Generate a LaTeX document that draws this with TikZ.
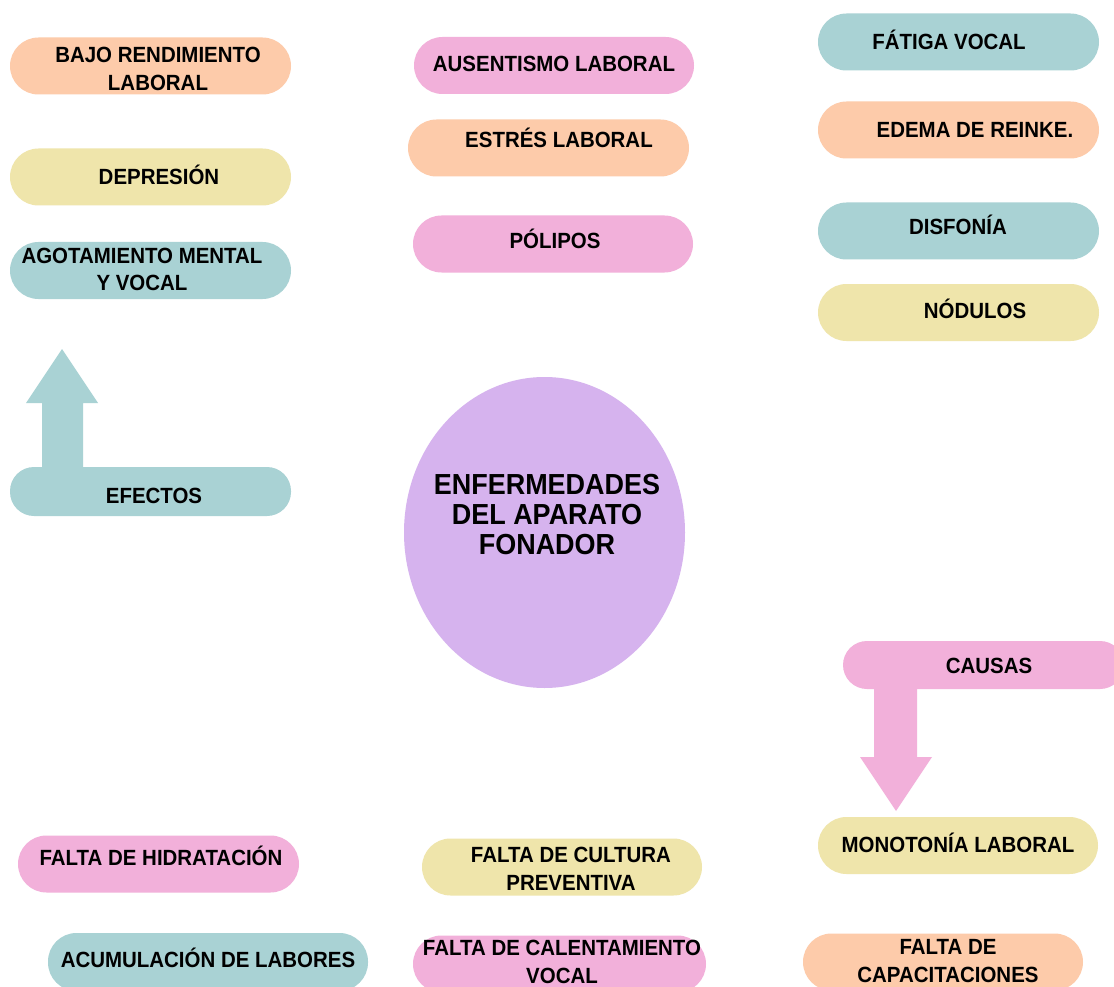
\documentclass[tikz,border=0pt]{standalone}
\usepackage{fontspec}
\newfontfamily\lblfont{Liberation Sans}[FakeStretch=0.93]
\definecolor{csalmon}{HTML}{FDCBAA}
\definecolor{cyellow}{HTML}{EFE5AB}
\definecolor{cteal}{HTML}{A9D2D4}
\definecolor{cpink}{HTML}{F2B0DA}
\definecolor{cpurple}{HTML}{D6B3EE}
\newcommand{\mylines}[2]{\begin{tabular}[t]{@{}c@{}}#1\\#2\end{tabular}}
\begin{document}
\begin{tikzpicture}[x=1pt,y=-1pt,
  pill/.style={rectangle, rounded corners=28.5pt, minimum width=281pt, minimum height=57pt, inner sep=0pt, draw=none},
  smallpill/.style={pill, rounded corners=24pt, minimum height=48pt},
  txt/.style={anchor=base, inner sep=0pt, font=\lblfont\bfseries\fontsize{22}{28}\selectfont},
  bigtxt/.style={anchor=base, inner sep=0pt, font=\lblfont\bfseries\fontsize{29}{30}\selectfont}
]
\useasboundingbox (0,0) rectangle (1114,987);
\fill[white] (0,0) rectangle (1114,987);

% arrows
\fill[cteal] (42,470) -- (42,403) -- (26,403) -- (62,349) -- (98,403) -- (83,403) -- (83,470) -- cycle;
\fill[cpink] (874,686) -- (874,757) -- (860,757) -- (896,811) -- (932,757) -- (917,757) -- (917,686) -- cycle;

% central ellipse
\fill[cpurple] (544.5,532.5) ellipse [x radius=140.5, y radius=155.5];
\node[bigtxt] (centro) at (547,494) {\begin{tabular}[t]{@{}c@{}}ENFERMEDADES\\DEL APARATO\\FONADOR\end{tabular}};

% left column
\node[pill, fill=csalmon] (bajo) at (150.5,66) {};
\node[txt] (bajoT) at (158,63) {\mylines{BAJO RENDIMIENTO}{LABORAL}};
\node[pill, fill=cyellow] (depre) at (150.5,177) {};
\node[txt] (depreT) at (159,185) {DEPRESIÓN};
\node[pill, fill=cteal] (agot) at (150.5,270.5) {};
\node[txt] (agotT) at (142,263) {\mylines{AGOTAMIENTO MENTAL}{Y VOCAL}};
\node[pill, smallpill, fill=cteal, minimum height=49pt] (efectos) at (150.5,491.5) {};
\node[txt] (efectosT) at (154,503) {EFECTOS};

% middle column
\node[pill, fill=cpink, minimum width=280pt] (ausent) at (554,65.5) {};
\node[txt] (ausentT) at (554,72) {AUSENTISMO LABORAL};
\node[pill, fill=csalmon] (estres) at (548.5,148) {};
\node[txt] (estresT) at (559,148) {ESTRÉS LABORAL};
\node[pill, fill=cpink, minimum width=280pt] (polipos) at (553,244) {};
\node[txt] (poliposT) at (555,248) {PÓLIPOS};

% right column
\node[pill, fill=cteal] (fatiga) at (958.5,42) {};
\node[txt] (fatigaT) at (949,50) {FÁTIGA VOCAL};
\node[pill, fill=csalmon] (edema) at (958.5,130) {};
\node[txt] (edemaT) at (975,138) {EDEMA DE REINKE.};
\node[pill, fill=cteal] (disfonia) at (958.5,231) {};
\node[txt] (disfoniaT) at (958,235) {DISFONÍA};
\node[pill, fill=cyellow] (nodulos) at (958.5,312.5) {};
\node[txt] (nodulosT) at (975,318) {NÓDULOS};

% causas
\node[pill, smallpill, fill=cpink] (causas) at (983.5,665) {};
\node[txt] (causasT) at (989,673) {CAUSAS};
\node[pill, fill=cyellow, minimum width=280pt] (mono) at (958,845.5) {};
\node[txt] (monoT) at (958,852) {MONOTONÍA LABORAL};

% bottom rows
\node[pill, fill=cpink] (hidrat) at (158.5,864) {};
\node[txt] (hidratT) at (161,865) {FALTA DE HIDRATACIÓN};
\node[pill, fill=cyellow, minimum width=280pt] (cultura) at (562,867) {};
\node[txt] (culturaT) at (571,862) {\mylines{FALTA DE CULTURA}{PREVENTIVA}};
\node[pill, fill=cteal, minimum width=320pt, minimum height=58pt] (acum) at (208,962) {};
\node[txt] (acumT) at (208,967) {ACUMULACIÓN DE LABORES};
\node[pill, fill=cpink, minimum width=293pt] (calent) at (559.5,964) {};
\node[txt] (calentT) at (562,955) {\mylines{FALTA DE CALENTAMIENTO}{VOCAL}};
\node[pill, fill=csalmon, minimum width=280pt] (capac) at (943,962) {};
\node[txt] (capacT) at (948,954) {\mylines{FALTA DE}{CAPACITACIONES}};
\end{tikzpicture}
\end{document}
